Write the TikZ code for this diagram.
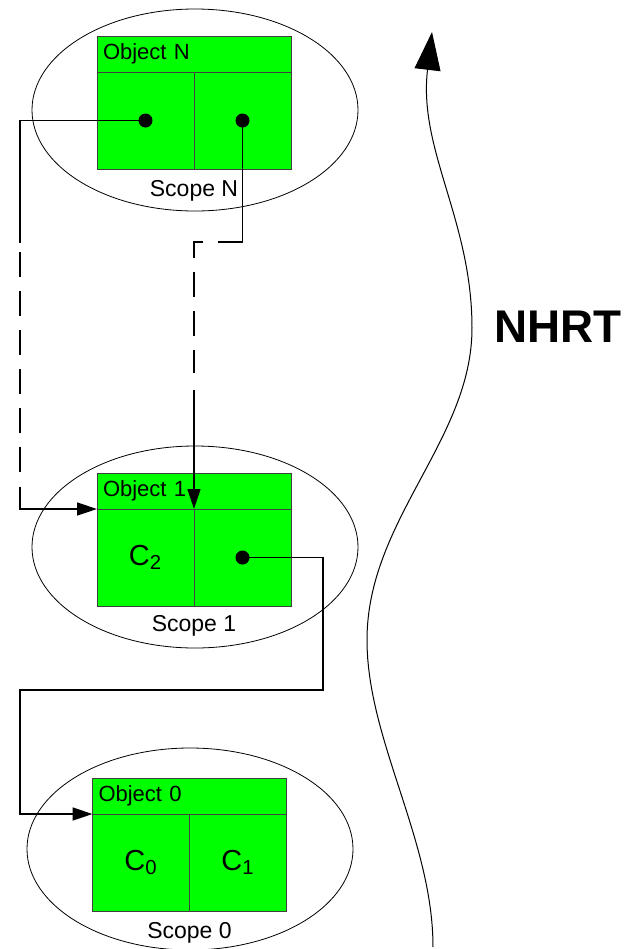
\documentclass[tikz,border=0pt]{standalone}
\usepackage{fontspec}
\setmainfont{Liberation Sans}
\usetikzlibrary{positioning, arrows.meta, shapes.geometric}
\definecolor{objGreen}{HTML}{00FF00}
\definecolor{objEdge}{HTML}{404040}

\begin{document}
\begin{tikzpicture}[
    x=0.5pt, y=-0.5pt,
    >={Triangle[length=10pt, width=6.5pt]},
    scopering/.style={ellipse, draw, line width=0.4pt, minimum width=163pt, minimum height=101pt, inner sep=0pt},
    objhead/.style={draw=objEdge, fill=objGreen, line width=0.5pt, minimum height=18pt, text width=91pt,
                    inner xsep=3pt, inner ysep=0pt, outer sep=0pt, align=left, font=\fontsize{11}{13}\selectfont},
    objcell/.style={draw=objEdge, fill=objGreen, line width=0.5pt, minimum width=48.5pt, minimum height=48.5pt,
                    inner sep=0pt, outer sep=0pt, font=\fontsize{14.5}{17}\selectfont},
    scopelbl/.style={inner sep=0pt, font=\fontsize{11.5}{13}\selectfont},
    ptr/.style={circle, fill=black, minimum size=7pt, inner sep=0pt},
    link/.style={line width=0.8pt},
    dashlink/.style={link, dash pattern=on 12.5pt off 7pt},
    wave/.style={line width=0.5pt, -{Triangle[length=19pt, width=13pt]}},
]
\useasboundingbox (0,0) rectangle (626,949);

% ---- Scope N ----
\node[scopering] (sN) at (195,110) {};
\node[objhead] (hN) at (194,54) {Object N};
\node[objcell, below right=0pt and 0pt of hN.south west] (lN) {};
\node[objcell, right=0pt of lN] (rN) {};
\node[scopelbl, below=5.5pt of lN.south east] (tN) {Scope N};

% ---- Scope 1 ----
\node[scopering] (s1) at (195,547) {};
\node[objhead] (h1) at (194,491) {Object 1};
\node[objcell, below right=0pt and 0pt of h1.south west] (l1) {C\textsubscript{2}};
\node[objcell, right=0pt of l1] (r1) {};
\node[scopelbl, below=4.5pt of l1.south east] (t1) {Scope 1};

% ---- Scope 0 ----
\node[scopering] (s0) at (190,849) {};
\node[objhead] (h0) at (189.5,796) {Object 0};
\node[objcell, below right=0pt and 0pt of h0.south west] (l0) {C\textsubscript{0}};
\node[objcell, right=0pt of l0] (r0) {C\textsubscript{1}};
\node[scopelbl, below=5.5pt of l0.south east] (t0) {Scope 0};

% bends of the references
\coordinate (aN1) at (20,243);
\coordinate (aN2) at (20,252);
\coordinate (aN3) at (20,472);
\coordinate (aN4) at (20,487);
\coordinate (bN1) at (218,242);
\coordinate (bN2) at (203,242);
\coordinate (bN3) at (194,373);
\coordinate (bN4) at (194,390);
\coordinate (c11) at (323,690);
\coordinate (c12) at (20,690);

% Object N, left field -> Object 1
\draw[link] (lN.center) -| (aN1);
\draw[dashlink] (aN2) -- (aN3);
\draw[link, ->] (aN4) |- (h1.south west);

% Object N, right field -> Object 1
\draw[link] (rN.center) |- (bN1);
\draw[dashlink] (bN2) -| (bN3);
\draw[link, ->] (bN4) -- (h1.south);

% Object 1, right field -> Object 0
\draw[link, ->] (r1.center) -| (c11) -- (c12) |- (h0.south west);

% pointer dots
\node[ptr] (pNl) at (lN) {};
\node[ptr] (pNr) at (rN) {};
\node[ptr] (p1r) at (r1) {};

% --- NHRT lifetime arrow ---
\draw[wave] (433,947) .. controls (433,840) and (367,740) .. (367,640)
    .. controls (367,520) and (472,440) .. (472,328)
    .. controls (472,220) and (418,150) .. (432,32);
\node[font=\fontsize{22.9}{26}\selectfont\bfseries] (nhrt) at (558,327) {NHRT};

\end{tikzpicture}
\end{document}
